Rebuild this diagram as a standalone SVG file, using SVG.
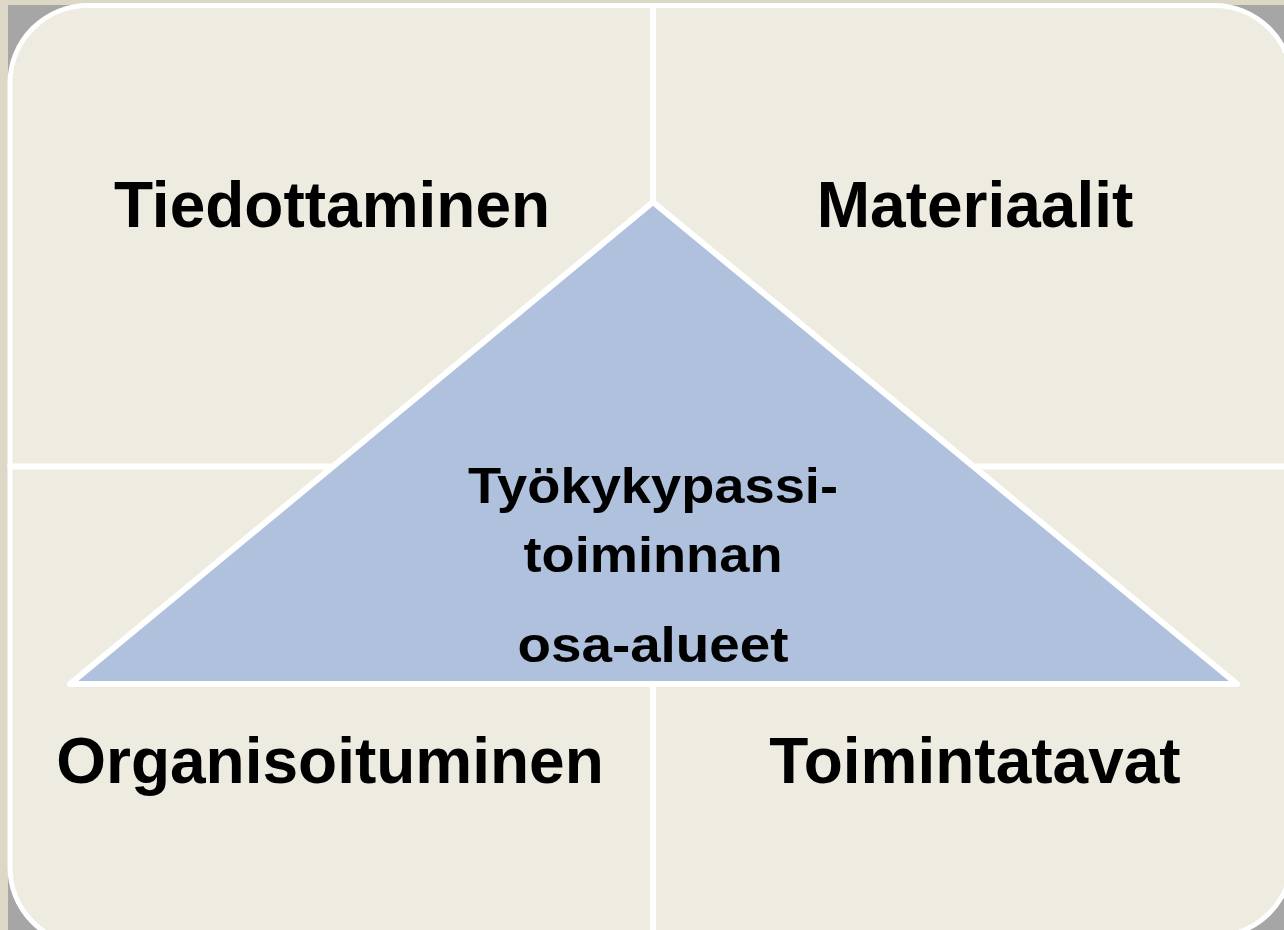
<svg xmlns="http://www.w3.org/2000/svg" width="1284" height="930" viewBox="0 0 1284 930">
  <style>
    .quad { fill: #eeebe0; stroke: #ffffff; stroke-width: 5; }
    .label { font-family: "Liberation Sans", Arial, sans-serif; font-weight: bold; font-size: 64px; fill: #000000; text-anchor: middle; }
    .center { font-family: "Liberation Sans", Arial, sans-serif; font-weight: bold; font-size: 50px; fill: #000000; text-anchor: middle; }
  </style>
  <rect id="background" x="0" y="0" width="1284" height="930" fill="#ddd8c5"/>
  <rect x="8" y="5" width="1276" height="925" fill="#a6a6a6"/>

  <g id="tiedottaminen">
    <path class="quad" d="M10,466 V83.5 A78,78 0 0 1 88,5.5 H652.5 V466 Z"/>
    <text class="label" x="332" y="227">Tiedottaminen</text>
  </g>
  <g id="materiaalit">
    <path class="quad" d="M653.5,5.5 H1214 A78,78 0 0 1 1292,83.5 V466 H653.5 Z"/>
    <text class="label" x="975" y="227">Materiaalit</text>
  </g>
  <g id="organisoituminen">
    <path class="quad" d="M10,467 H652.5 V945 H88 A78,78 0 0 1 10,867 Z"/>
    <text class="label" x="330" y="783">Organisoituminen</text>
  </g>
  <g id="toimintatavat">
    <path class="quad" d="M653.5,467 H1292 V858 A78,78 0 0 1 1214,936 H653.5 Z"/>
    <text class="label" x="975" y="783">Toimintatavat</text>
  </g>

  <g id="triangle">
    <polygon points="653,202 1237,684 70,684" fill="#b0c1dd" stroke="#ffffff" stroke-width="6" stroke-linejoin="round"/>
    <text class="center" x="653" y="503" textLength="370" lengthAdjust="spacingAndGlyphs">Työkykypassi-</text>
    <text class="center" x="653" y="572" textLength="259" lengthAdjust="spacingAndGlyphs">toiminnan</text>
    <text class="center" x="653" y="662" textLength="271" lengthAdjust="spacingAndGlyphs">osa-alueet</text>
  </g>
</svg>
